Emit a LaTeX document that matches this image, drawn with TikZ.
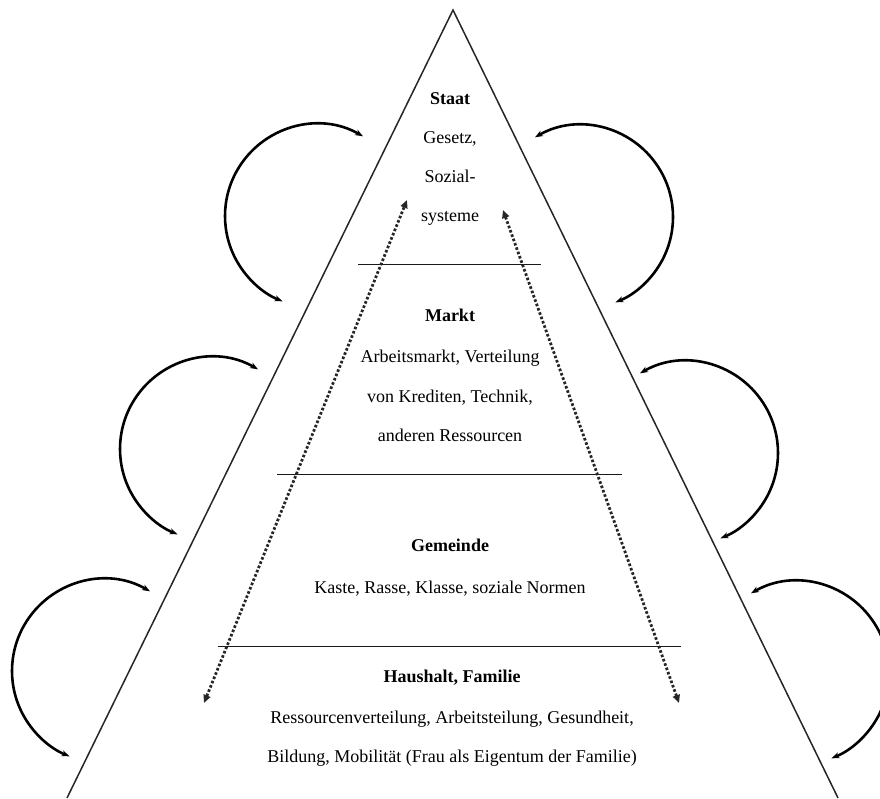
\documentclass[tikz,border=0pt]{standalone}
\usepackage{fontspec}
\setmainfont{Liberation Serif}
\usetikzlibrary{arrows.meta}

\tikzset{
  pyramidline/.style={draw=black!85, line width=1.5pt},
  levelline/.style={draw=black!90, line width=1pt},
  cyclearrow/.style={draw=black, line width=2.6pt,
    {Stealth[length=8pt,width=6pt]}-{Stealth[length=8pt,width=6pt]}},
  linkarrow/.style={draw=black!85, line width=2.8pt, dash pattern=on 2.6pt off 2pt,
    {Triangle[length=8pt,width=7pt]}-{Triangle[length=8pt,width=7pt]}},
  title/.style={font=\fontsize{18}{20}\selectfont\bfseries, anchor=base, text=black, inner sep=0pt},
  body/.style={font=\fontsize{18}{20}\selectfont, anchor=base, text=black, inner sep=0pt}
}

\begin{document}
\begin{tikzpicture}[x=1pt,y=1pt]
\useasboundingbox (0,0) rectangle (880,798);
\clip (0,0) rectangle (880,798);

% pyramid outline
\coordinate (apex) at (453,788);
\coordinate (baseL) at (67,0);
\coordinate (baseR) at (838,0);
\draw[pyramidline] (baseL) -- (apex) -- (baseR);

% level separators
\coordinate (s1l) at (358,533); \coordinate (s1r) at (541,533);
\coordinate (s2l) at (277,323); \coordinate (s2r) at (622,323);
\coordinate (s3l) at (218,152); \coordinate (s3r) at (681,152);
\draw[levelline] (s1l) -- (s1r);
\draw[levelline] (s2l) -- (s2r);
\draw[levelline] (s3l) -- (s3r);

% Staat
\node[title] (staat) at (450,693) {Staat};
\node[body] (staat1) at (450,654) {Gesetz,};
\node[body] (staat2) at (450,615) {Sozial-};
\node[body] (staat3) at (450,576) {systeme};

% Markt
\node[title] (markt) at (450,476) {Markt};
\node[body] (markt1) at (450,435) {Arbeitsmarkt, Verteilung};
\node[body] (markt2) at (450,395) {von Krediten, Technik,};
\node[body] (markt3) at (450,356) {anderen Ressourcen};

% Gemeinde
\node[title] (gemeinde) at (450,246) {Gemeinde};
\node[body] (gemeinde1) at (450,205) {Kaste, Rasse, Klasse, soziale Normen};

% Haushalt, Familie
\node[title] (haushalt) at (452,116) {Haushalt, Familie};
\node[body] (haushalt1) at (452,75) {Ressourcenverteilung, Arbeitsteilung, Gesundheit,};
\node[body] (haushalt2) at (452,36) {Bildung, Mobilität (Frau als Eigentum der Familie)};

% dotted links across all levels
\coordinate (dl1) at (204,95);  \coordinate (dl2) at (407,598);
\coordinate (dr1) at (503,588); \coordinate (dr2) at (679,95);
\draw[linkarrow] (dl1) -- (dl2);
\draw[linkarrow] (dr1) -- (dr2);

% feedback loops on the left side
\coordinate (lt) at ([shift={(60:92)}]317,582);
\coordinate (lm) at ([shift={(60:92)}]212,349);
\coordinate (lb) at ([shift={(60:92)}]104,127);
\draw[cyclearrow] (lt) arc[start angle=60, end angle=248, radius=92pt];
\draw[cyclearrow] (lm) arc[start angle=60, end angle=248, radius=92pt];
\draw[cyclearrow] (lb) arc[start angle=60, end angle=248, radius=92pt];

% feedback loops on the right side
\coordinate (rt) at ([shift={(120:92)}]581,581);
\coordinate (rm) at ([shift={(120:92)}]686,345);
\coordinate (rb) at ([shift={(120:92)}]797,125);
\draw[cyclearrow] (rt) arc[start angle=120, end angle=-68, radius=92pt];
\draw[cyclearrow] (rm) arc[start angle=120, end angle=-68, radius=92pt];
\draw[cyclearrow] (rb) arc[start angle=120, end angle=-68, radius=92pt];
\end{tikzpicture}
\end{document}
